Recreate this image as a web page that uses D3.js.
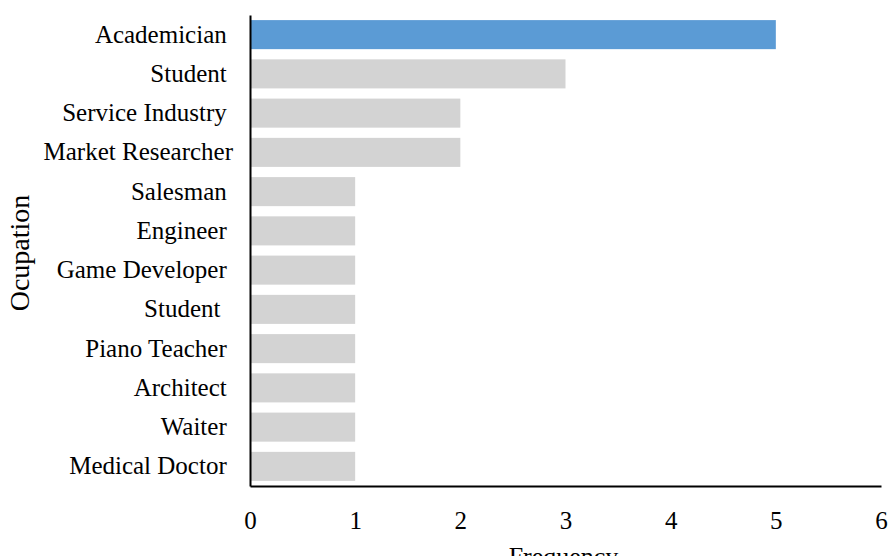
<!DOCTYPE html>
<html>
<head>
<meta charset="utf-8">
<script src="https://cdn.jsdelivr.net/npm/d3@7"></script>
<style>
  html, body { margin: 0; padding: 0; background: #fff; }
  svg text { font-family: "Liberation Serif", "Times New Roman", serif; fill: #000; white-space: pre; }
</style>
</head>
<body>
<svg id="chart" width="890" height="556"></svg>
<script>
// Occupation labels, top to bottom (trailing spaces are part of the labels)
const categories = [
  "Academician ", "Student ", "Service Industry ", "Market Researcher",
  "Salesman ", "Engineer ", "Game Developer ", "Student  ",
  "Piano Teacher ", "Architect ", "Waiter ", "Medical Doctor "
];
// Frequency per occupation
const frequencies = [5, 3, 2, 2, 1, 1, 1, 1, 1, 1, 1, 1];
// Highlighted row
const highlight = [true, false, false, false, false, false, false, false, false, false, false, false];
// X axis tick values
const xTicks = [0, 1, 2, 3, 4, 5, 6];

const svg = d3.select("#chart");
const margin = { left: 250, right: 9, top: 15, bottom: 70 };
const width = 890, height = 556;

const x = d3.scaleLinear()
  .domain([0, 6])
  .range([margin.left, width - margin.right]);

const y = d3.scaleBand()
  .domain(d3.range(categories.length))
  .range([margin.top, height - margin.bottom])
  .paddingInner(0.26)
  .paddingOuter(0.13);

// Bars
svg.append("g")
  .selectAll("rect")
  .data(frequencies)
  .join("rect")
  .attr("x", x(0))
  .attr("y", (d, i) => y(i))
  .attr("width", d => x(d) - x(0))
  .attr("height", y.bandwidth())
  .attr("fill", (d, i) => highlight[i] ? "#5b9bd5" : "#d3d3d3");

// X axis
const xAxis = svg.append("g")
  .attr("transform", `translate(0,${height - margin.bottom})`)
  .call(d3.axisBottom(x).tickValues(xTicks).tickFormat(d3.format("d")).tickSize(0).tickPadding(25));
xAxis.select(".domain").attr("stroke", "#000").attr("stroke-width", 2);
xAxis.selectAll("text").style("font-size", "25px");

// Y axis
const yAxis = svg.append("g")
  .attr("transform", `translate(${margin.left},0)`)
  .call(d3.axisLeft(y).tickFormat(i => categories[i]).tickSize(0).tickPadding(17));
yAxis.select(".domain").attr("stroke", "#000").attr("stroke-width", 2);
yAxis.selectAll("text").style("font-size", "25px");

// Axis titles
svg.append("text")
  .attr("x", (x(0) + x(6)) / 2 - 2)
  .attr("y", 565)
  .attr("text-anchor", "middle")
  .style("font-size", "26px")
  .text("Frequency");

svg.append("text")
  .attr("transform", `translate(29,253) rotate(-90)`)
  .attr("text-anchor", "middle")
  .style("font-size", "28px")
  .text("Ocupation");
</script>
</body>
</html>
